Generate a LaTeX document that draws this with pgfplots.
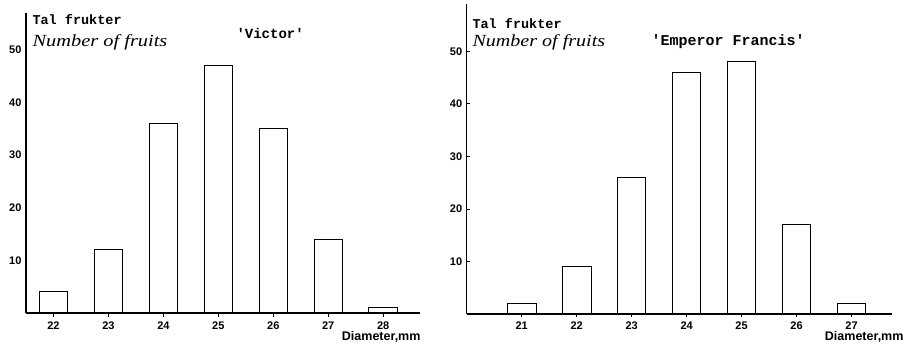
\documentclass[border=0pt]{standalone}
\usepackage{pgfplots}
\pgfplotsset{compat=1.18}
\usepackage{pgfplotstable}
\usepackage{fontspec}
\setmainfont{Liberation Sans}
\newfontfamily\typewriter{Liberation Mono}
\newfontfamily\hand{Liberation Serif}

% Fruit counts per diameter class (mm)
\pgfplotstableread{
d n
22 4
23 12
24 36
25 47
26 35
27 14
28 1
}\victor
\pgfplotstableread{
d n
21 2
22 9
23 26
24 46
25 48
26 17
27 2
}\emperor

\pgfplotsset{fruitaxis/.style={
  scale only axis, anchor=south west,
  axis x line=bottom, axis y line=left,
  axis line style={-, line width=1.5pt},
  axis on top,
  ymin=0, ytick={10,20,30,40,50},
  tick label style={font=\bfseries\fontsize{11}{11}\selectfont},
  /pgf/number format/assume math mode=true,
  xtick style={black, line width=0.8pt},
  major tick length=4pt,
  tick align=inside,
  yticklabel style={xshift=-1pt},
  xticklabel style={yshift=-1pt},
  clip=false,
  ybar, bar width=0.52,
}}

\begin{document}
\begin{tikzpicture}
\path[use as bounding box] (0,0) rectangle (912pt,345pt);

% 'Victor'
\begin{axis}[fruitaxis,
  at={(26pt,32pt)}, width=394pt, height=300pt,
  xmin=21.5, xmax=28.67, ymax=57,
  xtick={22,...,28},
  ytick style={draw=none}]
\addplot[draw=black, line width=0.9pt, fill=white] table[x=d,y=n]{\victor};
\end{axis}

% 'Emperor Francis'
\begin{axis}[fruitaxis,
  at={(466.7pt,31pt)}, width=425pt, height=310pt,
  xmin=20, xmax=27.73, ymax=59,
  xtick={21,...,27},
  ytick style={black, line width=0.8pt},
  major tick length=3pt]
\addplot[draw=black, line width=0.9pt, fill=white] table[x=d,y=n]{\emperor};
\end{axis}

% titles and axis names
\node[anchor=west, font=\typewriter\bfseries\fontsize{13.5}{13.5}\selectfont] at (29pt,325pt) {Tal frukter};
\node[anchor=west, font=\hand\itshape\fontsize{17}{17}\selectfont] at (29pt,303pt) {\scalebox{1.2}[1]{Number of fruits}};
\node[anchor=west, font=\typewriter\bfseries\fontsize{14}{14}\selectfont] at (233pt,312pt) {'Victor'};
\node[anchor=east, font=\bfseries\fontsize{12.5}{12.5}\selectfont] at (424pt,8pt) {Diameter,mm};

\node[anchor=west, font=\typewriter\bfseries\fontsize{13.5}{13.5}\selectfont] at (469pt,321pt) {Tal frukter};
\node[anchor=west, font=\hand\itshape\fontsize{17}{17}\selectfont] at (469pt,303pt) {\scalebox{1.18}[1]{Number of fruits}};
\node[anchor=west, font=\typewriter\bfseries\fontsize{15}{15}\selectfont] at (648pt,303pt) {'Emperor Francis'};
\node[anchor=east, font=\bfseries\fontsize{12.5}{12.5}\selectfont] at (907pt,8pt) {Diameter,mm};
\end{tikzpicture}
\end{document}
